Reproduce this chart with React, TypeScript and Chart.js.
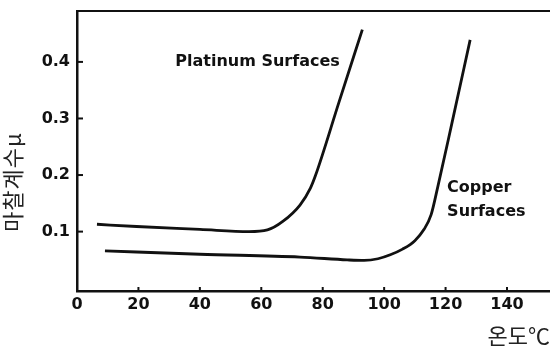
import React, { useEffect, useRef } from "react";
import { Chart, registerables } from "chart.js";

Chart.register(...registerables);

const platinumX = [6.5, 19.4, 40, 56, 62, 67, 72.6, 76, 77.7, 85.3, 92.9];
const platinumY = [0.113, 0.109, 0.104, 0.1, 0.103, 0.118, 0.147, 0.177, 0.2, 0.329, 0.457];
const copperX = [9.1, 40, 72.6, 88, 93.5, 98, 102, 106, 110, 113, 115.3, 117.5, 122, 128];
const copperY = [0.066, 0.06, 0.055, 0.05, 0.049, 0.052, 0.059, 0.069, 0.084, 0.104, 0.13, 0.18, 0.29, 0.439];
const xTicks = [0, 20, 40, 60, 80, 100, 120, 140];
const yTicks = [0.1, 0.2, 0.3, 0.4];
const xTitle = "온도℃";
const yTitle = "마찰계수μ";
const platinumLabel = { text: ["Platinum Surfaces"], x: 32, y: 0.4 };
const copperLabel = { text: ["Copper", "Surfaces"], x: 120.5, y: 0.177 };

const INK = "#111";
const tickFont = { family: "'DejaVu Sans', sans-serif", size: 16, weight: "bold" as const };

const decorPlugin = {
  id: "decor",
  afterDraw(chart: any) {
    const { ctx, chartArea, scales } = chart;
    const xs = scales.x;
    const ys = scales.y;
    ctx.save();
    // top frame line
    ctx.strokeStyle = INK;
    ctx.lineWidth = 2;
    ctx.beginPath();
    ctx.moveTo(chartArea.left, chartArea.top);
    ctx.lineTo(chart.width, chartArea.top);
    ctx.stroke();
    // inward ticks
    ctx.lineWidth = 2;
    yTicks.forEach((v) => {
      const py = ys.getPixelForValue(v);
      ctx.beginPath();
      ctx.moveTo(chartArea.left, py);
      ctx.lineTo(chartArea.left + 6, py);
      ctx.stroke();
    });
    xTicks.forEach((v) => {
      if (v === 0) return;
      const px = xs.getPixelForValue(v);
      ctx.beginPath();
      ctx.moveTo(px, chartArea.bottom);
      ctx.lineTo(px, chartArea.bottom - 4);
      ctx.stroke();
    });
    // annotations
    ctx.fillStyle = INK;
    ctx.font = "bold 16px 'DejaVu Sans', sans-serif";
    ctx.textAlign = "left";
    ctx.textBaseline = "middle";
    const drawLabel = (lab: { text: string[]; x: number; y: number }) => {
      const px = xs.getPixelForValue(lab.x);
      const py = ys.getPixelForValue(lab.y);
      lab.text.forEach((t, i) => ctx.fillText(t, px, py + i * 24));
    };
    drawLabel(platinumLabel);
    drawLabel(copperLabel);
    // y title
    ctx.font = "22px 'Noto Sans CJK KR', sans-serif";
    ctx.fillStyle = "#222";
    try {
      (ctx as any).letterSpacing = "1px";
    } catch (e) {}
    ctx.translate(13, 182);
    ctx.rotate(-Math.PI / 2);
    ctx.textAlign = "center";
    ctx.fillText(yTitle, 0, 0);
    ctx.restore();
  },
};

export default function App() {
  const ref = useRef<HTMLCanvasElement | null>(null);
  useEffect(() => {
    if (!ref.current) return;
    const chart = new Chart(ref.current, {
      type: "line",
      data: {
        datasets: [
          {
            label: "Platinum Surfaces",
            data: platinumX.map((x, i) => ({ x, y: platinumY[i] })),
            borderColor: INK,
            borderWidth: 2.8,
            pointRadius: 0,
            fill: false,
            cubicInterpolationMode: "monotone",
          },
          {
            label: "Copper Surfaces",
            data: copperX.map((x, i) => ({ x, y: copperY[i] })),
            borderColor: INK,
            borderWidth: 2.8,
            pointRadius: 0,
            fill: false,
            cubicInterpolationMode: "monotone",
          },
        ],
      },
      options: {
        animation: false,
        responsive: false,
        layout: { padding: { top: 11, right: 0, left: 0, bottom: 0 } },
        plugins: { legend: { display: false }, tooltip: { enabled: false } },
        scales: {
          x: {
            type: "linear",
            min: 0,
            max: 154,
            afterBuildTicks: (s: any) => {
              s.ticks = xTicks.map((v) => ({ value: v }));
            },
            afterFit: (s: any) => {
              s.height = 58;
              s.paddingLeft = 0;
              s.paddingRight = 0;
            },
            grid: { display: false, drawTicks: false },
            border: { display: true, color: INK, width: 2.5 },
            ticks: { color: INK, font: tickFont, padding: 4, maxRotation: 0, autoSkip: false },
            title: {
              display: true,
              text: xTitle,
              align: "end",
              color: "#222",
              font: { family: "'Noto Sans CJK KR', sans-serif", size: 22 },
              padding: 0,
            },
          },
          y: {
            type: "linear",
            min: -0.005,
            max: 0.49,
            afterBuildTicks: (s: any) => {
              s.ticks = yTicks.map((v) => ({ value: v }));
            },
            afterFit: (s: any) => {
              s.width = 77;
              s.paddingTop = 0;
              s.paddingBottom = 0;
            },
            grid: { display: false, drawTicks: false },
            border: { display: true, color: INK, width: 2.5 },
            ticks: { color: INK, font: tickFont, padding: 7, callback: (v: any) => String(v) },
          },
        },
      },
      plugins: [decorPlugin],
    } as any);
    return () => chart.destroy();
  }, []);
  return (
    <div style={{ position: "absolute", left: 0, top: 0, width: 550, height: 349, background: "#fff" }}>
      <canvas ref={ref} width={550} height={349} style={{ display: "block" }} />
    </div>
  );
}
